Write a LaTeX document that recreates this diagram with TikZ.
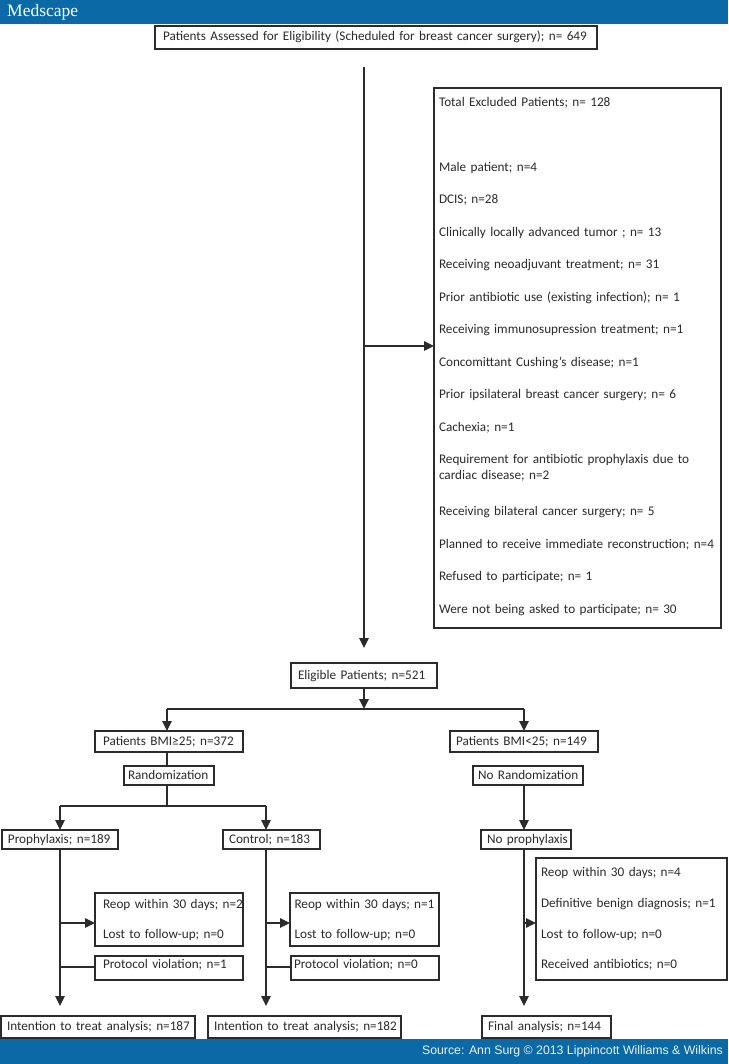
\documentclass[tikz,border=0pt]{standalone}
\usepackage{fontspec}
\setmainfont{Carlito}
\newfontfamily\srcfont{Liberation Sans}
\newfontfamily\logofont{Liberation Serif}
\usetikzlibrary{arrows.meta}
\definecolor{band}{HTML}{0B6AA5}
\definecolor{ink}{HTML}{2B2B2B}
\tikzset{
  x=1pt,y=-1pt,
  boxnode/.style={draw=ink,line width=1.4pt,fill=white,text=ink,inner xsep=6pt,inner ysep=0pt,outer sep=0pt,align=left,font=\fontsize{13.2}{15}\selectfont},
  link/.style={draw=ink,line width=1.4pt},
  arr/.style={link,-{Triangle[length=10pt,width=9.5pt]}},
}
\hbadness=10000 \hfuzz=50pt
\newcommand{\oneline}[1]{\mbox{\smash{\raisebox{-3.5pt}{#1}}}}
% [options]{name}{x1}{y1}{x2}{y2}{text}
\newcommand{\bx}[6][]{%
  \pgfmathsetmacro{\bw}{#5-#3}\pgfmathsetmacro{\bh}{#6-#4}%
  \pgfmathsetmacro{\bcx}{(#3+#5)/2}\pgfmathsetmacro{\bcy}{(#4+#6)/2}%
  \node[boxnode,minimum width=\bw pt,minimum height=\bh pt,text width=\bw pt-12pt,#1] (#2) at (\bcx,\bcy)}
\begin{document}
\begin{tikzpicture}
\useasboundingbox (0,0) rectangle (728,1064);
\fill[band] (0,0) rectangle (728,24.5);
\fill[band] (0,1039) rectangle (728,1064);
\node[text=white,anchor=west,inner sep=0pt,font=\logofont\fontsize{17.5}{18}\selectfont] (logo) at (7,12.5) {Medscape};
\node[text=white!92!band,anchor=east,inner sep=0pt,font=\srcfont\fontsize{12.3}{13}\selectfont] (src) at (723,1051.5) {Source: Ann Surg © 2013 Lippincott Williams \& Wilkins};

\bx[inner xsep=8pt,text width=426pt]{top}{155}{26}{597}{49}{\oneline{Patients Assessed for Eligibility (Scheduled for breast cancer surgery); n= 649}};
\bx[inner xsep=5pt,text width=277pt,font=\fontsize{13.2}{32.5}\selectfont]{excl}{434}{88}{721}{628}{Total Excluded Patients; n= 128\\[32.5pt]
Male patient; n=4\\
DCIS; n=28\\
Clinically locally advanced tumor ; n= 13\\
Receiving neoadjuvant treatment; n= 31\\
Prior antibiotic use (existing infection); n= 1\\
Receiving immunosupression treatment; n=1\\
Concomittant Cushing’s disease; n=1\\
Prior ipsilateral breast cancer surgery; n= 6\\
Cachexia; n=1\\
Requirement for antibiotic prophylaxis due to\\[-16.5pt]
cardiac disease; n=2\\[3.5pt]
Receiving bilateral cancer surgery; n= 5\\
Planned to receive immediate reconstruction; n=4\\
Refused to participate; n= 1\\
Were not being asked to participate; n= 30\rule[-6pt]{0pt}{1pt}};
\bx[inner xsep=7pt,text width=132pt]{elig}{291}{663}{437}{688}{\oneline{Eligible Patients; n=521}};
\bx[inner xsep=8pt,text width=132pt]{bmiA}{95}{731}{243}{752}{\oneline{Patients BMI≥25; n=372}};
\bx[inner xsep=4pt,text width=82pt]{randA}{124}{766}{214}{785}{\oneline{Randomization}};
\bx{bmiB}{450}{731}{598}{752}{\oneline{Patients BMI<25; n=149}};
\bx[inner xsep=5pt,text width=100pt]{randB}{473}{766}{583}{785}{\oneline{No Randomization}};
\bx{proph}{2}{830}{118}{849}{\oneline{Prophylaxis; n=189}};
\bx{ctrl}{223}{830}{320}{849}{\oneline{Control; n=183}};
\bx{noproph}{481}{830}{571}{849}{\oneline{No prophylaxis}};
\bx[inner xsep=8pt,text width=132pt,font=\fontsize{13.2}{30}\selectfont]{lossA}{95}{893}{243}{946}{\mbox{Reop within 30 days; n=2}\\\mbox{Lost to follow-up; n=0}};
\bx[inner xsep=8pt,text width=132pt]{violA}{95}{956}{243}{980}{\mbox{\smash{Protocol violation; n=1}}};
\bx[inner xsep=4pt,text width=140pt,font=\fontsize{13.2}{30}\selectfont]{lossB}{290}{893}{439}{946}{\mbox{Reop within 30 days; n=1}\\\mbox{Lost to follow-up; n=0}};
\bx[inner xsep=3pt,text width=142pt]{violB}{291}{956}{439}{980}{\mbox{\smash{Protocol violation; n=0}}};
\bx[inner xsep=5pt,text width=181pt,font=\fontsize{13.2}{30.8}\selectfont]{lossC}{536}{858}{727}{980}{Reop within 30 days; n=4\\Definitive benign diagnosis; n=1\\Lost to follow-up; n=0\\Received antibiotics; n=0};
\bx{itA}{1}{1016}{195}{1038}{\oneline{Intention to treat analysis; n=187}};
\bx{itB}{208}{1016}{401}{1038}{\oneline{Intention to treat analysis; n=182}};
\bx{final}{482}{1016}{611}{1038}{\oneline{Final analysis; n=144}};

% helper points
\coordinate (start) at (364,67);
\coordinate (startend) at (364,648);
\coordinate (jexcl) at (364,346);
\coordinate (jelig) at (364,709);
\coordinate (jA) at (167,709);
\coordinate (jB) at (524,709);
\coordinate (jrand) at (167,806);
\coordinate (jP) at (60,806);
\coordinate (jC) at (266,806);
\coordinate (pA) at (60,923);
\coordinate (vA) at (60,967);
\coordinate (eA) at (60,1006);
\coordinate (pB) at (266,923);
\coordinate (vB) at (266,967);
\coordinate (eB) at (266,1006);
\coordinate (pC) at (524,923);
\coordinate (eC) at (524,1006);

% connectors
\draw[arr] (start) -- (startend);
\draw[arr] (jexcl) -- (jexcl -| excl.west);
\draw[arr] (elig.south -| jelig) -- (jelig);
\draw[arr] (jA) -- (jA |- bmiA.north);
\draw[arr] (jB) -- (jB |- bmiB.north);
\draw[link] (jA) -- (jB);
\draw[link] (jA |- bmiA.south) -- (jA |- randA.north);
\draw[link] (jrand |- randA.south) -- (jrand);
\draw[link] (jP) -- (jC);
\draw[arr] (jP) -- (jP |- proph.north);
\draw[arr] (jC) -- (jC |- ctrl.north);
\draw[arr] (jB |- randB.south) -- (jB |- noproph.north);
\draw[arr] (jP |- proph.south) -- (eA);
\draw[arr] (jC |- ctrl.south) -- (eB);
\draw[arr] (jB |- noproph.south) -- (eC);
\draw[arr] (pA) -- (pA -| lossA.west);
\draw[link] (vA) -- (vA -| violA.west);
\draw[arr] (pB) -- (pB -| lossB.west);
\draw[link] (vB) -- (vB -| violB.west);
\draw[arr] (pC) -- (pC -| lossC.west);
\end{tikzpicture}
\end{document}
